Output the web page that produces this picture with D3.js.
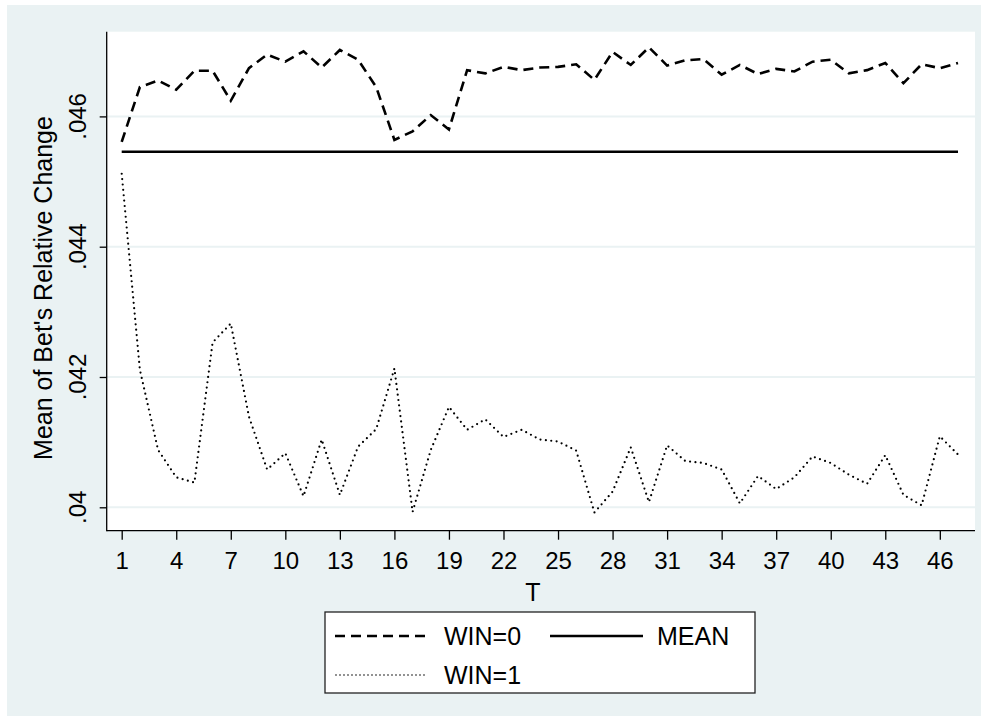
<!DOCTYPE html>
<html><head><meta charset="utf-8">
<script src="https://cdn.jsdelivr.net/npm/d3@7"></script>
<style>
html,body{margin:0;padding:0;background:#fff}
svg{display:block}
text{font-family:"Liberation Sans",Arial,Helvetica,sans-serif;fill:#000}
</style>
</head><body>
<svg id="chart" width="988" height="723"></svg>
<script>
// ---- data ----
const periods = [1,2,3,4,5,6,7,8,9,10,11,12,13,14,15,16,17,18,19,20,21,22,23,24,25,26,27,28,29,30,31,32,33,34,35,36,37,38,39,40,41,42,43,44,45,46,47];
const win0 = [0.04561,0.04645,0.04655,0.04641,0.04670,0.04670,0.04624,0.04674,0.04695,0.04684,0.04700,0.04675,0.04702,0.04687,0.04645,0.04564,0.04577,0.04602,0.04580,0.04671,0.04666,0.04676,0.04671,0.04675,0.04676,0.04680,0.04656,0.04699,0.04679,0.04706,0.04678,0.04686,0.04688,0.04664,0.04679,0.04665,0.04673,0.04669,0.04684,0.04687,0.04666,0.04671,0.04682,0.04651,0.04680,0.04674,0.04682];
const win1 = [0.04512,0.04211,0.04088,0.04046,0.04038,0.04253,0.04282,0.04139,0.04058,0.04083,0.04017,0.04104,0.04019,0.04093,0.04120,0.04213,0.03993,0.04088,0.04154,0.04119,0.04135,0.04108,0.04119,0.04104,0.04101,0.04087,0.03992,0.04024,0.04092,0.04008,0.04095,0.04071,0.04068,0.04058,0.04006,0.04048,0.04028,0.04046,0.04078,0.04068,0.04050,0.04036,0.04080,0.04019,0.04003,0.04109,0.04081];
const meanValue = 0.045458;
const yTicks = [0.04,0.042,0.044,0.046];
const yTickLabels = [".04",".042",".044",".046"];
const xTicks = [1,4,7,10,13,16,19,22,25,28,31,34,37,40,43,46];
const xTitle = "T";
const yTitle = "Mean of Bet's Relative Change";
const legendLabels = ["WIN=0","MEAN","WIN=1"];

// ---- layout ----
const svg = d3.select("#chart");
const bg = "#eaf2f3";
const plot = {left:106.7, right:975, top:31.7, bottom:530.7};

svg.append("rect").attr("x",7).attr("y",5).attr("width",974).attr("height",711).attr("fill",bg);
svg.append("rect").attr("x",plot.left).attr("y",plot.top)
   .attr("width",plot.right-plot.left).attr("height",plot.bottom-plot.top).attr("fill","#fff");

const x = d3.scaleLinear().domain([1,47]).range([121.7,958]);
const y = d3.scaleLinear().domain([0.04,0.046]).range([507.3,116.4]);

// gridlines
svg.append("g").selectAll("line").data(yTicks).join("line")
  .attr("x1",plot.left).attr("x2",plot.right)
  .attr("y1",d=>y(d)).attr("y2",d=>y(d))
  .attr("stroke",bg).attr("stroke-width",2);

// y axis
const yAxis = svg.append("g").attr("transform",`translate(${plot.left},0)`)
  .call(d3.axisLeft(y).tickValues(yTicks).tickSize(7).tickFormat(""));
yAxis.select(".domain").remove();
yAxis.selectAll(".tick line").attr("stroke","#000").attr("stroke-width",1.3);
svg.append("line").attr("x1",plot.left).attr("x2",plot.left).attr("y1",plot.top).attr("y2",plot.bottom+0.6)
  .attr("stroke","#000").attr("stroke-width",1.3);
svg.append("g").selectAll("text").data(yTicks).join("text")
  .attr("transform",(d)=>`translate(86,${y(d)}) rotate(-90)`)
  .attr("text-anchor","middle").attr("font-size",24)
  .text((d,i)=>yTickLabels[i]);
svg.append("text").attr("transform","translate(52,288) rotate(-90)")
  .attr("text-anchor","middle").attr("font-size",25).text(yTitle);

// x axis
const xAxis = svg.append("g").attr("transform",`translate(0,${plot.bottom})`)
  .call(d3.axisBottom(x).tickValues(xTicks).tickSize(9).tickPadding(12).tickFormat(d3.format("d")));
xAxis.select(".domain").remove();
xAxis.selectAll(".tick line").attr("stroke","#000").attr("stroke-width",1.3);
xAxis.selectAll(".tick text").attr("font-size",24).attr("font-family",null).attr("fill","#000");
svg.append("line").attr("x1",plot.left).attr("x2",plot.right).attr("y1",plot.bottom).attr("y2",plot.bottom)
  .attr("stroke","#000").attr("stroke-width",1.3);
svg.append("text").attr("x",533).attr("y",601).attr("text-anchor","middle").attr("font-size",25).text(xTitle);

// lines
const line = d3.line().x((d,i)=>x(periods[i])).y(d=>y(d));
svg.append("path").datum(win0).attr("d",line).attr("fill","none")
  .attr("stroke","#000").attr("stroke-width",2.6).attr("stroke-dasharray","10,6");
svg.append("path").datum(periods.map(()=>meanValue)).attr("d",line).attr("fill","none")
  .attr("stroke","#000").attr("stroke-width",2.6);
svg.append("path").datum(win1).attr("d",line).attr("fill","none")
  .attr("stroke","#000").attr("stroke-width",2.2).attr("stroke-linecap","round").attr("stroke-dasharray","0,5.4");

// legend
const lg = svg.append("g");
lg.append("rect").attr("x",325).attr("y",612).attr("width",430).attr("height",81)
  .attr("fill","#fff").attr("stroke","#222").attr("stroke-width",1.3);
const rows = [
  {x1:335,x2:428,yy:636,dash:"10,6",w:2.6,cap:"butt",label:legendLabels[0],tx:444},
  {x1:550,x2:643,yy:636,dash:null,w:2.6,cap:"butt",label:legendLabels[1],tx:657},
  {x1:336,x2:428,yy:675,dash:"0,4",w:1.6,cap:"round",label:legendLabels[2],tx:444}
];
rows.forEach(r=>{
  lg.append("line").attr("x1",r.x1).attr("x2",r.x2).attr("y1",r.yy).attr("y2",r.yy)
    .attr("stroke","#000").attr("stroke-width",r.w).attr("stroke-linecap",r.cap)
    .attr("stroke-dasharray",r.dash);
  lg.append("text").attr("x",r.tx).attr("y",r.yy+9).attr("font-size",25).text(r.label);
});
</script>
</body></html>
